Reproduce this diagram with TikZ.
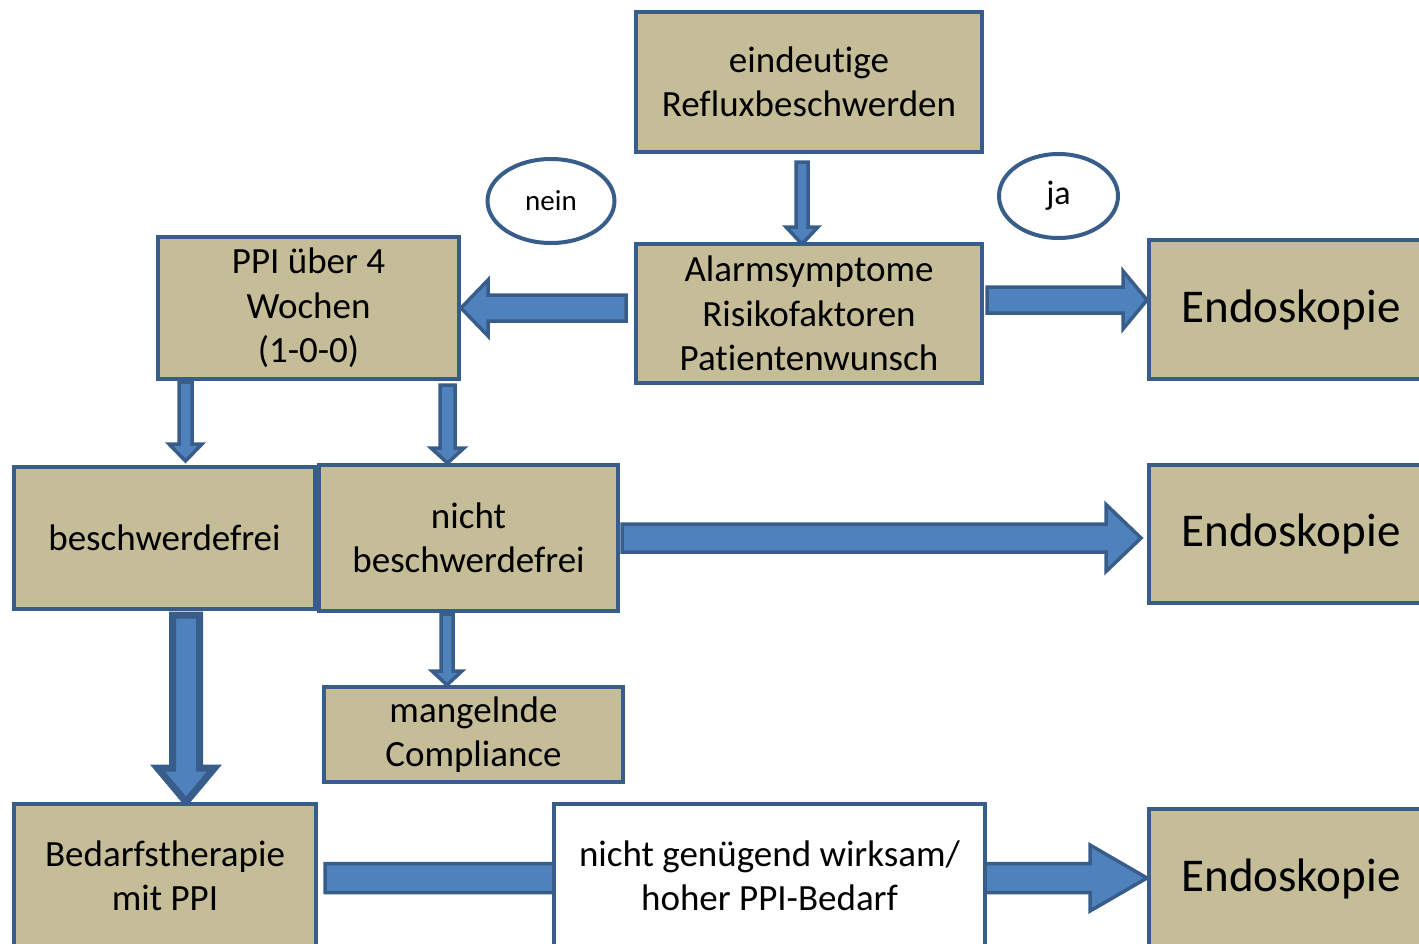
\documentclass[tikz,border=0pt]{standalone}
\usepackage{fontspec}
\setmainfont{Carlito}[Ligatures=NoCommon]
\usetikzlibrary{calc,backgrounds,shapes.geometric}
\definecolor{boxfill}{HTML}{C4BD97}
\definecolor{bordc}{HTML}{385D8A}
\definecolor{arrfill}{HTML}{4F81BD}
\tikzset{
  box/.style={draw=bordc, fill=boxfill, line width=4pt, align=center,
    font=\fontsize{37}{44.5}\selectfont, inner sep=0pt},
  whitebox/.style={box, fill=white},
  endo/.style={box, font=\fontsize{47}{56}\selectfont},
  oval/.style={draw=bordc, fill=white, ellipse, line width=4pt, inner sep=0pt},
  barrow/.style n args={3}{draw=bordc, fill=arrfill, line width=3.5pt, line join=miter,
    to path={($(\tikztostart)!#1!90:(\tikztotarget)$)
      -- ($(\tikztotarget)!#3!(\tikztostart)!#1!-90:(\tikztostart)$)
      -- ($(\tikztotarget)!#3!(\tikztostart)!#2!-90:(\tikztostart)$)
      -- (\tikztotarget)
      -- ($(\tikztotarget)!#3!(\tikztostart)!#2!90:(\tikztostart)$)
      -- ($(\tikztotarget)!#3!(\tikztostart)!#1!90:(\tikztostart)$)
      -- ($(\tikztostart)!#1!-90:(\tikztotarget)$) -- cycle}}
}
\begin{document}
\begin{tikzpicture}[x=1pt, y=-1pt]
\useasboundingbox (0,0) rectangle (1419,943);
\clip (0,0) rectangle (1419,943);
% nodes
\node[box, minimum width=346pt, minimum height=140pt] (top) at (809,82) {eindeutige\\Refluxbeschwerden};
\node[box, minimum width=346pt, minimum height=139pt] (alarm) at (809,313.5) {Alarmsymptome\\Risikofaktoren\\Patientenwunsch};
\node[box, minimum width=301pt, minimum height=142pt] (ppi) at (308.5,308) {PPI über 4\\Wochen\\(1-0-0)};
\node[endo, minimum width=284pt, minimum height=139pt] (endo1) at (1291,309.5) {Endoskopie};
\node[box, minimum width=301pt, minimum height=142pt] (besch) at (164.5,538) {beschwerdefrei};
\node[box, minimum width=299pt, minimum height=146pt] (nicht) at (468.5,538) {nicht\\beschwerdefrei};
\node[endo, minimum width=284pt, minimum height=138pt] (endo2) at (1291,534) {Endoskopie};
\node[box, minimum width=299pt, minimum height=95pt] (mang) at (473.5,734.5) {mangelnde\\Compliance};
\node[box, minimum width=302pt, minimum height=144pt] (bedarf) at (165,876) {Bedarfstherapie\\mit PPI};
\node[whitebox, minimum width=431pt, minimum height=144pt] (wirk) at (769.5,876) {nicht genügend wirksam/\\hoher PPI-Bedarf};
\node[endo, minimum width=284pt, minimum height=139pt] (endo3) at (1291,878.5) {Endoskopie};
\node[oval, minimum width=127pt, minimum height=84pt, font=\fontsize{29}{35}\selectfont] (nein) at (551,201) {nein};
\node[oval, minimum width=119pt, minimum height=84pt, font=\fontsize{34}{40}\selectfont] (ja) at (1058.5,196) {ja};
% connector end points
\coordinate (s1) at ($(top.south)+(-7,8)$);
\coordinate (t1) at ($(s1 |- alarm.north)+(0,2)$);
\coordinate (s2) at ($(alarm.west)+(-8,-5.5)$);
\coordinate (t2) at (ppi.east |- s2);
\coordinate (s3) at ($(alarm.east)+(3,-13.5)$);
\coordinate (t3) at (endo1.west |- s3);
\coordinate (s4) at ($(ppi.south)+(-123,1)$);
\coordinate (t4) at ($(s4 |- besch.north)+(0,-4)$);
\coordinate (s5) at ($(ppi.south)+(139,4)$);
\coordinate (t5) at (s5 |- nicht.north);
\coordinate (s6) at ($(nicht.east)+(2,0)$);
\coordinate (t6) at ($(endo2.west |- s6)+(-6,0)$);
\coordinate (s7) at ($(besch.south)+(21.5,4)$);
\coordinate (t7) at (s7 |- bedarf.north);
\coordinate (s8) at ($(nicht.south)+(-21.5,1)$);
\coordinate (t8) at (s8 |- mang.north);
\coordinate (s9) at ($(bedarf.east)+(7,2)$);
\coordinate (t9) at (endo3.west |- s9);
\begin{pgfonlayer}{background}
\draw[barrow={6pt}{16pt}{17pt}] (s1) to (t1);
\draw[barrow={13pt}{28pt}{27pt}] (s2) to (t2);
\draw[barrow={13pt}{29pt}{24pt}] (s3) to (t3);
\draw[barrow={6.5pt}{16.5pt}{17pt}] (s4) to (t4);
\draw[barrow={7.5pt}{16.5pt}{15pt}] (s5) to (t5);
\draw[barrow={14pt}{33.5pt}{35pt}] (s6) to (t6);
\draw[barrow={13.5pt}{28.5pt}{34pt}, line width=7pt] (s7) to (t7);
\draw[barrow={6pt}{15pt}{14pt}] (s8) to (t8);
\draw[barrow={14.5pt}{33pt}{57pt}] (s9) to (t9);
\end{pgfonlayer}
\end{tikzpicture}
\end{document}
